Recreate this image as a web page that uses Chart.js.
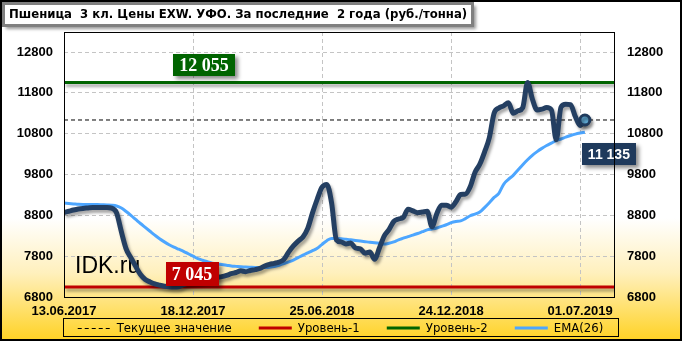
<!DOCTYPE html>
<html>
<head>
<meta charset="utf-8">
<script src="https://cdn.jsdelivr.net/npm/chart.js@4.4.1/dist/chart.umd.min.js"></script>
<style>
  html, body { margin: 0; padding: 0; background: #fff; }
  #wrap { width: 682px; height: 341px; }
</style>
</head>
<body>
<div id="wrap"><canvas id="price-chart" width="682" height="341"></canvas></div>
<script>
const title = "Пшеница  3 кл. Цены EXW. УФО. За последние  2 года (руб./тонна)";

// weekly index of each date label on the x axis
const xTickPos = [0, 27, 54, 81, 108];
const xTickLabels = ["13.06.2017", "18.12.2017", "25.06.2018", "24.12.2018", "01.07.2019"];
const yTicks = [6800, 7800, 8800, 9800, 10800, 11800, 12800];

// weekly prices, rub/t
const prices = [
  8870, 8900, 8930, 8955, 8970, 8980, 8990, 8990, 8990, 8990,
  8975, 8860, 8400, 7980, 7760, 7550, 7350, 7230, 7170, 7120,
  7090, 7065, 7050, 7045, 7050, 7100, 7140, 7160, 7180, 7200,
  7220, 7250, 7280, 7300, 7330, 7370, 7400, 7440, 7420, 7450,
  7470, 7500, 7560, 7600, 7625, 7655, 7720, 7900, 8050, 8170,
  8270, 8480, 8860, 9200, 9490, 9557, 9100, 8200, 8150, 8100,
  8120, 8000, 7980, 7870, 7900, 7725, 8000, 8290, 8450, 8650,
  8710, 8750, 8950, 8910, 8865, 8880, 8900, 8520, 8840, 9050,
  9050, 9000, 9130, 9310, 9320, 9500, 9850, 10050, 10350, 10700,
  11300, 11430, 11480, 11560, 11300, 11360, 11440, 12055, 11650, 11380,
  11400, 11440, 11380, 10650, 11450, 11520, 11510, 11220, 11000, 11135
];

const ema26 = [
  9100, 9090, 9080, 9070, 9068, 9068, 9068, 9065, 9060, 9055,
  9048, 9030, 8980, 8895, 8800, 8700, 8600, 8505, 8410, 8315,
  8225, 8150, 8080, 8020, 7970, 7920, 7860, 7800, 7740, 7700,
  7665, 7630, 7610, 7595, 7580, 7560, 7550, 7540, 7532, 7528,
  7525, 7525, 7525, 7530, 7545, 7578, 7620, 7660, 7705, 7765,
  7825, 7880, 7935, 7995, 8090, 8180, 8235, 8235, 8228, 8215,
  8200, 8185, 8170, 8155, 8140, 8130, 8115, 8095, 8115, 8150,
  8200, 8240, 8280, 8315, 8355, 8400, 8445, 8465, 8490, 8530,
  8570, 8620, 8650, 8665, 8720, 8790, 8830, 8880, 8990, 9110,
  9240, 9340, 9560, 9680, 9780, 9910, 10040, 10160, 10270, 10360,
  10440, 10510, 10570, 10630, 10670, 10715, 10755, 10790, 10815, 10835
];

const level1 = 7045;
const level2 = 12055;
const current = prices[prices.length - 1];

const X_MAX = 115.3;
const SANS = "'Liberation Sans', Arial, sans-serif";
const NARROW = "'Liberation Sans Narrow', 'DejaVu Sans Condensed', 'Liberation Sans', sans-serif";

const toPoints = arr => arr.map((v, i) => ({ x: i, y: v }));
const flat = v => [{ x: 0, y: v }, { x: X_MAX, y: v }];
const fmt = v => String(v).replace(/\B(?=(\d{3})+(?!\d))/g, " ");

function badge(ctx, text, cx, cy, bg, font, h) {
  ctx.save();
  ctx.font = font;
  const w = Math.round(ctx.measureText(text).width + 12);
  ctx.shadowColor = "rgba(0,0,0,0.45)";
  ctx.shadowBlur = 4;
  ctx.shadowOffsetX = 3;
  ctx.shadowOffsetY = 3;
  ctx.fillStyle = bg;
  ctx.fillRect(Math.round(cx - w / 2), Math.round(cy - h / 2), w, h);
  ctx.shadowColor = "transparent";
  ctx.fillStyle = "#fff";
  ctx.textAlign = "center";
  ctx.textBaseline = "middle";
  ctx.fillText(text, cx, cy + 1);
  ctx.restore();
}

const lineShadow = {
  id: "lineShadow",
  beforeDatasetDraw(chart, args) {
    if (!chart.data.datasets[args.index].shadow) return;
    const ctx = chart.ctx;
    ctx.save();
    ctx.shadowColor = "rgba(0,0,0,0.35)";
    ctx.shadowBlur = 3;
    ctx.shadowOffsetX = 2;
    ctx.shadowOffsetY = 3;
  },
  afterDatasetDraw(chart, args) {
    if (chart.data.datasets[args.index].shadow) chart.ctx.restore();
  }
};

const decor = {
  id: "decor",
  beforeDraw(chart) {
    const { ctx, width, height } = chart;
    const g = ctx.createLinearGradient(0, 0, 0, height);
    g.addColorStop(0, "#ffffff");
    g.addColorStop(0.64, "#ffffff");
    g.addColorStop(0.8, "#fff0bd");
    g.addColorStop(1, "#ffd223");
    ctx.save();
    ctx.fillStyle = g;
    ctx.fillRect(0, 0, width, height);
    ctx.restore();
  },
  beforeDatasetsDraw(chart) {
    const { ctx, chartArea } = chart;
    ctx.save();
    ctx.font = "23px " + SANS;
    ctx.fillStyle = "#000";
    ctx.textBaseline = "alphabetic";
    ctx.fillText("IDK.ru", chartArea.left + 11, chartArea.bottom - 24);
    ctx.restore();
  },
  afterDatasetsDraw(chart) {
    const { ctx } = chart;
    const xs = chart.scales.x, ys = chart.scales.y;
    const serif = "bold 18px 'Liberation Serif', 'Times New Roman', serif";
    badge(ctx, fmt(level2), xs.getPixelForValue(29.3), ys.getPixelForValue(level2) - 17, "#006400", serif, 22);
    badge(ctx, fmt(level1), xs.getPixelForValue(26.8), ys.getPixelForValue(level1) - 13, "#c00000", serif, 24);
    const lx = xs.getPixelForValue(prices.length - 1);
    const ly = ys.getPixelForValue(current);
    badge(ctx, fmt(current), lx + 24, ly + 34, "#1f3a5c", "bold 14px " + SANS, 22);
  },
  afterDraw(chart) {
    const { ctx, chartArea: a } = chart;
    ctx.save();
    // plot frame
    ctx.strokeStyle = "#000";
    ctx.lineWidth = 1;
    ctx.strokeRect(a.left + 0.5, a.top + 0.5, a.right - a.left - 1, a.bottom - a.top);

    // legend
    const items = chart.data.datasets.filter(d => !d.hideInLegend);
    ctx.font = "13px " + NARROW;
    const swatch = 33, gap = 6, spacing = 27;
    const widths = items.map(d => swatch + gap + ctx.measureText(d.label).width);
    const total = widths.reduce((s, w) => s + w, 0) + spacing * (items.length - 1);
    const boxL = 63, boxR = 618, boxT = 318, boxB = 336;
    ctx.strokeRect(boxL + 0.5, boxT + 0.5, boxR - boxL, boxB - boxT);
    let x = (boxL + boxR) / 2 - total / 2;
    const y = (boxT + boxB) / 2 + 0.5;
    items.forEach((d, i) => {
      ctx.strokeStyle = d.borderColor;
      ctx.lineWidth = d.borderDash ? 1 : 3;
      ctx.setLineDash(d.borderDash || []);
      ctx.beginPath();
      ctx.moveTo(x, Math.round(y) + (d.borderDash ? 0.5 : 0));
      ctx.lineTo(x + swatch, Math.round(y) + (d.borderDash ? 0.5 : 0));
      ctx.stroke();
      ctx.setLineDash([]);
      ctx.fillStyle = "#000";
      ctx.textAlign = "left";
      ctx.textBaseline = "middle";
      ctx.fillText(d.label, x + swatch + gap, y + 1);
      x += widths[i] + spacing;
    });

    // title box
    ctx.font = "bold 13px " + NARROW;
    const tw = ctx.measureText(title).width;
    ctx.save();
    ctx.shadowColor = "rgba(0,0,0,0.4)";
    ctx.shadowBlur = 3;
    ctx.shadowOffsetX = 3;
    ctx.shadowOffsetY = 3;
    ctx.fillStyle = "#fff";
    ctx.fillRect(3, 3, Math.round(tw + 12), 23);
    ctx.restore();
    ctx.strokeStyle = "#808080";
    ctx.strokeRect(3.5, 3.5, Math.round(tw + 12) - 1, 22);
    ctx.fillStyle = "#000";
    ctx.textAlign = "left";
    ctx.textBaseline = "middle";
    ctx.fillText(title, 9, 15);

    // outer frame
    ctx.strokeStyle = "#000";
    ctx.strokeRect(0.5, 0.5, chart.width - 1, chart.height - 1);
    ctx.restore();
  }
};

const tickFont = { family: SANS, size: 13, weight: "bold" };
const sharedY = {
  min: 6800,
  max: 13290,
  afterBuildTicks: s => { s.ticks = yTicks.map(v => ({ value: v })); },
  ticks: { color: "#000", font: tickFont, callback: v => String(v) }
};

new Chart(document.getElementById("price-chart"), {
  type: "line",
  data: {
    datasets: [
      { label: "Текущее значение", data: flat(current), borderColor: "#000", borderWidth: 1, borderDash: [4, 3], pointRadius: 0, order: 4 },
      { label: "Уровень-1", data: flat(level1), borderColor: "#c00000", borderWidth: 3, pointRadius: 0, order: 3, shadow: true },
      { label: "Уровень-2", data: flat(level2), borderColor: "#006400", borderWidth: 3, pointRadius: 0, order: 2, shadow: true },
      { label: "EMA(26)", data: toPoints(ema26), borderColor: "#4da6ff", borderWidth: 3, pointRadius: 0, cubicInterpolationMode: "monotone", order: 1 },
      {
        label: "Цена", data: toPoints(prices), borderColor: "#243f62", borderWidth: 5,
        pointRadius: c => (c.dataIndex === prices.length - 1 ? 5 : 0),
        pointBackgroundColor: "#5fa9d4", pointBorderColor: "#1f3a5c", pointBorderWidth: 3,
        cubicInterpolationMode: "monotone", order: 0, shadow: true, hideInLegend: true
      }
    ]
  },
  options: {
    responsive: false,
    animation: false,
    devicePixelRatio: 1,
    events: [],
    layout: { padding: { top: 32, bottom: 22, left: 0, right: 0 } },
    plugins: { legend: { display: false }, tooltip: { enabled: false } },
    scales: {
      x: {
        type: "linear",
        min: 0,
        max: X_MAX,
        afterBuildTicks: s => { s.ticks = xTickPos.map(v => ({ value: v })); },
        afterFit: s => { s.height = 22; },
        grid: { color: "#c4c4c4", drawTicks: false },
        border: { display: false, dash: [4, 3] },
        ticks: { padding: 7, maxRotation: 0, autoSkip: false, color: "#000", font: tickFont,
          callback: (v, i) => xTickLabels[i] }
      },
      y: {
        ...sharedY,
        position: "left",
        afterFit: s => { s.width = 64; },
        grid: { color: "#c4c4c4", drawTicks: false },
        border: { display: false, dash: [4, 3] },
        ticks: { ...sharedY.ticks, padding: 11 }
      },
      y2: {
        ...sharedY,
        position: "right",
        afterFit: s => { s.width = 67; },
        grid: { display: false, drawTicks: false },
        border: { display: false },
        ticks: { ...sharedY.ticks, padding: 12 }
      }
    }
  },
  plugins: [lineShadow, decor]
});
</script>
</body>
</html>
